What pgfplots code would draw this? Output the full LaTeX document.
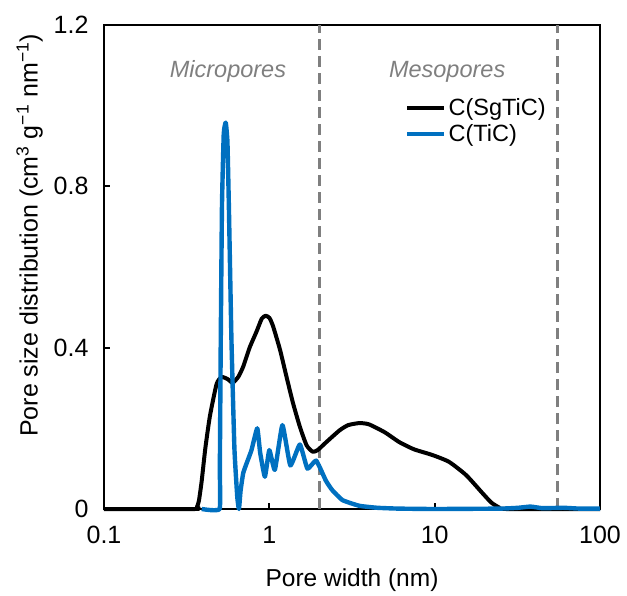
\documentclass[border=0pt]{standalone}
\usepackage{fontspec}
\setmainfont{Liberation Sans}
\usepackage{pgfplots}
\pgfplotsset{compat=1.18}

\definecolor{tichue}{HTML}{0070C0}
\definecolor{guide}{HTML}{7F7F7F}
\newcommand\fs{\fontsize{23.5}{28}\selectfont}
\newcommand\fticks{\fontsize{25}{30}\selectfont}
\newcommand\fxlab{\fontsize{24.5}{29}\selectfont}
\newcommand\fylab{\fontsize{25}{30}\selectfont}

\begin{document}
\begin{tikzpicture}
\path[use as bounding box] (0,0) rectangle (627pt,595pt);
\begin{axis}[
  at={(104pt,86pt)}, anchor=south west,
  scale only axis, width=496pt, height=484pt,
  xmode=log, xmin=0.1, xmax=100, ymin=0, ymax=1.2,
  xtick={0.1,1,10,100}, xticklabels={0.1,1,10,100},
  ytick={0,0.4,0.8,1.2}, yticklabels={0,0.4,0.8,1.2},
  xminorticks=false,
  tick pos=left, tick align=inside,
  major tick length=6pt,
  every tick/.style={black, line width=2pt},
  axis line style={line width=2.4pt},
  /pgf/number format/assume math mode=true,
  tick label style={font=\fticks},
  xticklabel style={yshift=-14pt},
  yticklabel style={xshift=-12pt},
  xlabel={Pore width (nm)},
  ylabel={Pore size distribution (cm\textsuperscript{3} g\textsuperscript{−1} nm\textsuperscript{−1})},
  xlabel style={font=\fxlab, at={(axis description cs:0.5,-0.148)}, anchor=center},
  ylabel style={font=\fylab, at={(axis description cs:-0.150,0.565)}, anchor=center},
  clip=false,
  legend cell align=left,
  legend image code/.code={\draw[#1] (0pt,0pt) -- (37pt,0pt);},
  legend style={draw=none, fill=none, inner sep=0pt, font=\fs,
    at={(axis description cs:0.607,0.853)}, anchor=north west,
    row sep=4pt, nodes={inner sep=2pt}},
]
% pore-range boundaries
\addplot[guide, line width=3pt, dash pattern=on 11pt off 6pt, forget plot]
  coordinates {(2,0) (2,1.2)};
\addplot[guide, line width=3pt, dash pattern=on 11pt off 6pt, forget plot]
  coordinates {(55,0) (55,1.2)};

% C(SgTiC)
\addplot[black, line width=4pt, smooth, tension=0.35, line join=round] coordinates {
  (0.1,0) (0.355,0) (0.365,0.005) (0.375,0.02) (0.39,0.07) (0.41,0.15)
  (0.437,0.23) (0.48,0.31)
  (0.515,0.327) (0.56,0.322) (0.60,0.313) (0.65,0.328) (0.695,0.353)
  (0.76,0.40) (0.837,0.44) (0.90,0.472) (0.95,0.479) (1.0,0.474)
  (1.05,0.455) (1.16,0.395) (1.27,0.328) (1.39,0.263) (1.53,0.204)
  (1.68,0.158) (1.83,0.142) (1.96,0.146) (2.2,0.165) (2.66,0.195)
  (3.0,0.208) (3.5,0.213) (4.0,0.21) (5.0,0.19) (6.1,0.166) (7.5,0.148)
  (9.66,0.134) (12.2,0.117) (15.5,0.084) (19.4,0.040) (22,0.016)
  (24.5,0.004) (27,0) (100,0)
};
\addlegendentry{C(SgTiC)}

% C(TiC)
\addplot[tichue, line width=4.4pt, line join=round, smooth, tension=0.25] coordinates {
  (0.39,0) (0.50,0) (0.502,0.1) (0.508,0.4) (0.517,0.75) (0.53,0.93) (0.545,0.958)
  (0.558,0.91) (0.57,0.74) (0.59,0.42) (0.615,0.15) (0.64,0.03) (0.655,0)
  (0.67,0.045) (0.695,0.089) (0.73,0.114) (0.78,0.146) (0.845,0.2)
  (0.88,0.14) (0.94,0.08) (1.0,0.146) (1.08,0.097) (1.2,0.208)
  (1.34,0.108) (1.53,0.16) (1.7,0.1) (1.92,0.12) (2.2,0.07) (2.4,0.047)
  (2.77,0.022) (3.5,0.008) (4.5,0.003) (6,0.001) (10,0) (25,0.001)
  (32,0.003) (38,0.006) (45,0.002) (60,0.003) (75,0.001) (100,0.001)
};
\addlegendentry{C(TiC)}

\node[font=\fs\itshape, text=guide] at (axis cs:0.562,1.084) {Micropores};
\node[font=\fs\itshape, text=guide] at (axis cs:11.9,1.084) {Mesopores};
\end{axis}
\end{tikzpicture}
\end{document}
